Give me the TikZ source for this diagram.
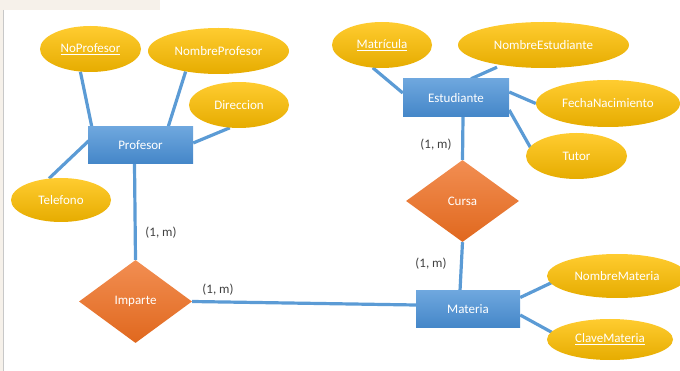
\documentclass[tikz,border=0pt]{standalone}
\usepackage{fontspec}
\setmainfont{Carlito}
\usetikzlibrary{shapes.geometric,backgrounds}

\definecolor{linkblue}{RGB}{91,155,213}
\definecolor{attrtop}{RGB}{255,204,48}
\definecolor{attrbot}{RGB}{230,172,0}
\definecolor{enttop}{RGB}{110,167,222}
\definecolor{entbot}{RGB}{68,134,200}
\definecolor{reltop}{RGB}{242,142,82}
\definecolor{relbot}{RGB}{224,104,30}
\definecolor{cardtext}{RGB}{64,64,64}
\definecolor{pagetint}{RGB}{246,241,234}
\definecolor{pageline}{RGB}{200,200,200}

\tikzset{
  txt/.style={font=\fontsize{13}{15.5}\selectfont},
  attr/.style={txt, ellipse, inner sep=0pt, text=white,
    top color=attrtop, bottom color=attrbot},
  entity/.style={txt, rectangle, inner sep=0pt, text=white,
    minimum width=105, minimum height=37,
    top color=enttop, bottom color=entbot},
  relation/.style={txt, diamond, inner sep=0pt, text=white,
    minimum width=113, minimum height=83,
    top color=reltop, bottom color=relbot},
  card/.style={txt, text=cardtext, inner sep=0pt},
  link/.style={draw=linkblue, line width=3.2pt}
}

\begin{document}
\begin{tikzpicture}[x=1pt,y=-1pt]
\useasboundingbox (0,0) rectangle (680,371);

% entities
\node[entity] (prof) at (140.5,145.5) {Profesor};
\node[entity, minimum width=106, minimum height=38] (est) at (456,98) {Estudiante};
\node[entity, minimum width=104, minimum height=37] (mat) at (468,309.5) {Materia};

% relationships
\node[relation] (imp) at (135.5,301.5) {Imparte};
\node[relation, minimum height=82] (cur) at (462.5,201) {Cursa};

% attributes of Profesor
\node[attr, minimum width=101, minimum height=46] (nop) at (90.5,49) {\underline{NoProfesor}};
\node[attr, minimum width=141, minimum height=46] (nomp) at (218.5,51) {NombreProfesor};
\node[attr, minimum width=100, minimum height=46] (dir) at (239,105) {Direccion};
\node[attr, minimum width=100, minimum height=44] (tel) at (61,200) {Telefono};

% attributes of Estudiante
\node[attr, minimum width=100, minimum height=46] (matr) at (382,45) {\underline{Matrícula}};
\node[attr, minimum width=171, minimum height=46] (nome) at (543.5,45) {NombreEstudiante};
\node[attr, minimum width=144, minimum height=47] (fec) at (608,103.5) {FechaNacimiento};
\node[attr, minimum width=101, minimum height=46] (tut) at (576.5,156) {Tutor};

% attributes of Materia
\node[attr, minimum width=140, minimum height=44] (nomm) at (617,276) {NombreMateria};
\node[attr, minimum width=126, minimum height=41] (clav) at (610,339.5) {\underline{ClaveMateria}};

% cardinalities
\node[card] (c1) at (161,233) {(1, m)};
\node[card] (c2) at (218,290) {(1, m)};
\node[card] (c3) at (436,145) {(1, m)};
\node[card] (c4) at (431,264) {(1, m)};

\begin{scope}[on background layer]
  % page edge
  \fill[pagetint] (0,0) rectangle (680,10);
  \fill[pagetint] (0,10) rectangle (3,371);
  \fill[white] (160,0) rectangle (680,10);
  \draw[pageline, line width=1pt] (3.5,10) -- (3.5,371);

  % Profesor
  \draw[link] (nop.-114) -- ([xshift=4]prof.north west);
  \draw[link] (nomp.-148) -- ([xshift=-25]prof.north east);
  \draw[link] (dir.-112) -- ([yshift=2.5]prof.east);
  \draw[link] (tel.119) -- ([shift={(6,-9.5)}]prof.west);
  \draw[link] ([xshift=-6]prof.south) -- (imp.north);

  % Imparte -- Materia
  \draw[link] (imp.east) -- ([yshift=4.5]mat.west);

  % Estudiante
  \draw[link] (matr.-112) -- ([yshift=5]est.west);
  \draw[link] ([shift={(-46.5,-1)}]nome.south) -- ([xshift=15]est.north);
  \draw[link] (fec.west) -- ([yshift=6]est.east);
  \draw[link] ([shift={(-34.5,12)}]tut.center) -- ([yshift=-12]est.east);
  \draw[link] ([xshift=7]est.south) -- (cur.north);
  \draw[link] (cur.south) -- ([xshift=-8]mat.north);

  % Materia
  \draw[link] ([yshift=12]mat.east) -- ([shift={(-64,6)}]nomm.center);
  \draw[link] ([yshift=-5.5]mat.east) -- ([shift={(-57,-6.5)}]clav.center);
\end{scope}
\end{tikzpicture}
\end{document}
